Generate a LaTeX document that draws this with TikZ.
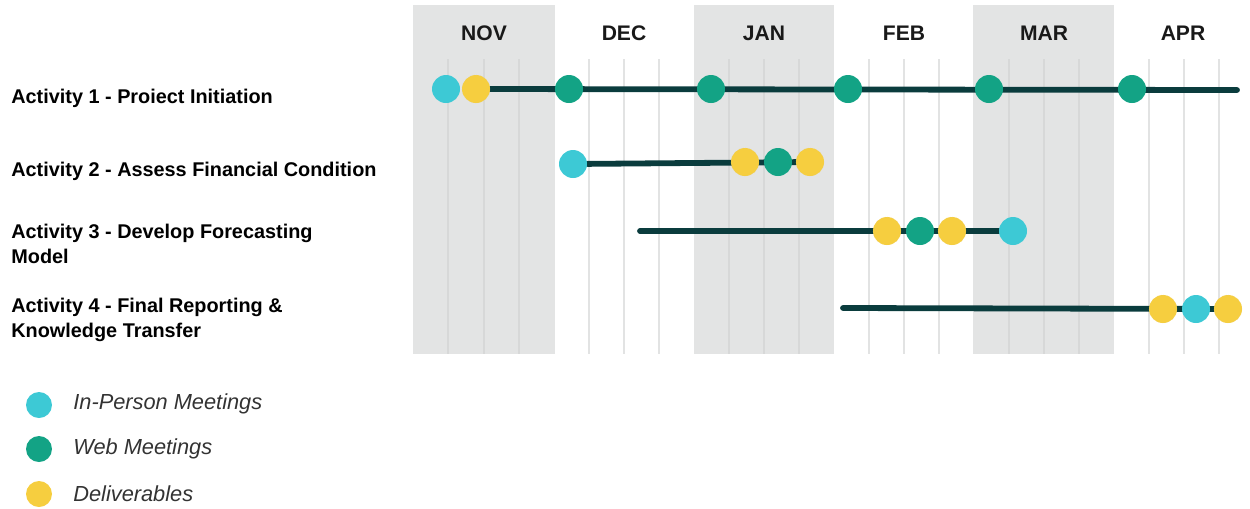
\documentclass[tikz,border=0pt]{standalone}
\usepackage{fontspec}
\setmainfont{Liberation Sans}
\usetikzlibrary{backgrounds}
\definecolor{bandgray}{HTML}{E3E4E4}
\definecolor{gridgray}{HTML}{E2E3E3}
\definecolor{gridband}{HTML}{D7D8D8}
\definecolor{bardark}{HTML}{0A3C3D}
\definecolor{inpersoncol}{HTML}{3DC9D5}
\definecolor{webcol}{HTML}{13A385}
\definecolor{delivcol}{HTML}{F6CE3F}
\tikzset{
    dot/.style={circle, inner sep=0pt, minimum size=0.56cm},
    inperson/.style={dot, fill=inpersoncol},
    web/.style={dot, fill=webcol},
    deliv/.style={dot, fill=delivcol, draw=delivcol!80!black!60, densely dotted, line width=0.2pt},
    keydot/.style={circle, inner sep=0pt, minimum size=0.52cm},
    bar/.style={bardark, line width=3.3pt, line cap=round},
    gridline/.style={gridgray, line width=0.7pt},
    month/.style={font=\bfseries\fontsize{12}{14}\selectfont, text=black!90},
    actlabel/.style={anchor=west, align=left, inner sep=0pt, font=\bfseries\fontsize{11.3}{14.2}\selectfont},
    keylabel/.style={anchor=west, inner sep=0pt, text=black!80, font=\itshape\fontsize{12.4}{14}\selectfont}
}
\begin{document}
\begin{tikzpicture}[x=0.02cm, y=-0.02cm]
        \useasboundingbox (0,0) rectangle (1250,508);
        % months
        \node[month] (nov) at (484,33) {NOV};
        \node[month] (dec) at (624,33) {DEC};
        \node[month] (jan) at (764,33) {JAN};
        \node[month] (feb) at (904,33) {FEB};
        \node[month] (mar) at (1044,33) {MAR};
        \node[month] (apr) at (1183,33) {APR};
        % activities
        \node[actlabel] (act1) at (11,98) {Activity 1 - Proiect Initiation};
        \node[actlabel] (act2) at (11,171) {Activity 2 - Assess Financial Condition};
        \node[actlabel] (act3) at (11,244) {Activity 3 - Develop Forecasting\\Model};
        \node[actlabel] (act4) at (11,320) {Activity 4 - Final Reporting \&\\Knowledge Transfer};
        % row 1
        \node[inperson] (r1a) at (446,89) {};
        \node[deliv] (r1b) at (476,89) {};
        \node[web] (r1c) at (569,89) {};
        \node[web] (r1d) at (711,89) {};
        \node[web] (r1e) at (848,89) {};
        \node[web] (r1f) at (989,89) {};
        \node[web] (r1g) at (1132,89) {};
        \coordinate (r1end) at (1237,90);
        % row 2
        \node[inperson] (r2a) at (573,164) {};
        \node[deliv] (r2b) at (745,162) {};
        \node[web] (r2c) at (778,162) {};
        \node[deliv] (r2d) at (810,162) {};
        % row 3
        \coordinate (r3start) at (640,231);
        \node[deliv] (r3a) at (887,231) {};
        \node[web] (r3b) at (920,231) {};
        \node[deliv] (r3c) at (952,231) {};
        \node[inperson] (r3d) at (1013,231) {};
        % row 4
        \coordinate (r4start) at (843,308);
        \node[deliv] (r4a) at (1163,309) {};
        \node[inperson] (r4b) at (1196,309) {};
        \node[deliv] (r4c) at (1228,309) {};
        % key
        \node[keydot, fill=inpersoncol] (k1) at (39,405) {};
        \node[keydot, fill=webcol] (k2) at (39,449) {};
        \node[keydot, fill=delivcol] (k3) at (39,494) {};
        \node[keylabel] (k1t) at (73,404) {In-Person Meetings};
        \node[keylabel] (k2t) at (73,449) {Web Meetings};
        \node[keylabel] (k3t) at (73,494) {Deliverables};
        \begin{scope}[on background layer]
            \fill[bandgray] (413,5) rectangle (555,354);
            \fill[bandgray] (694,5) rectangle (834,354);
            \fill[bandgray] (973,5) rectangle (1114,354);
            \draw[gridline, gridband] (448,59) -- (448,354) (484,59) -- (484,354) (519,59) -- (519,354)
                (729,59) -- (729,354) (764,59) -- (764,354) (799,59) -- (799,354)
                (1009,59) -- (1009,354) (1044,59) -- (1044,354) (1079,59) -- (1079,354);
            \draw[gridline] (589,59) -- (589,354) (624,59) -- (624,354) (659,59) -- (659,354)
                (869,59) -- (869,354) (904,59) -- (904,354) (939,59) -- (939,354)
                (1149,59) -- (1149,354) (1184,59) -- (1184,354) (1219,59) -- (1219,354);
            \draw[bar] (r1b) -- (r1end);
            \draw[bar] (r2a) -- (r2d);
            \draw[bar] (r3start) -- (r3d);
            \draw[bar] (r4start) -- (r4c);
        \end{scope}
    \end{tikzpicture}
\end{document}
